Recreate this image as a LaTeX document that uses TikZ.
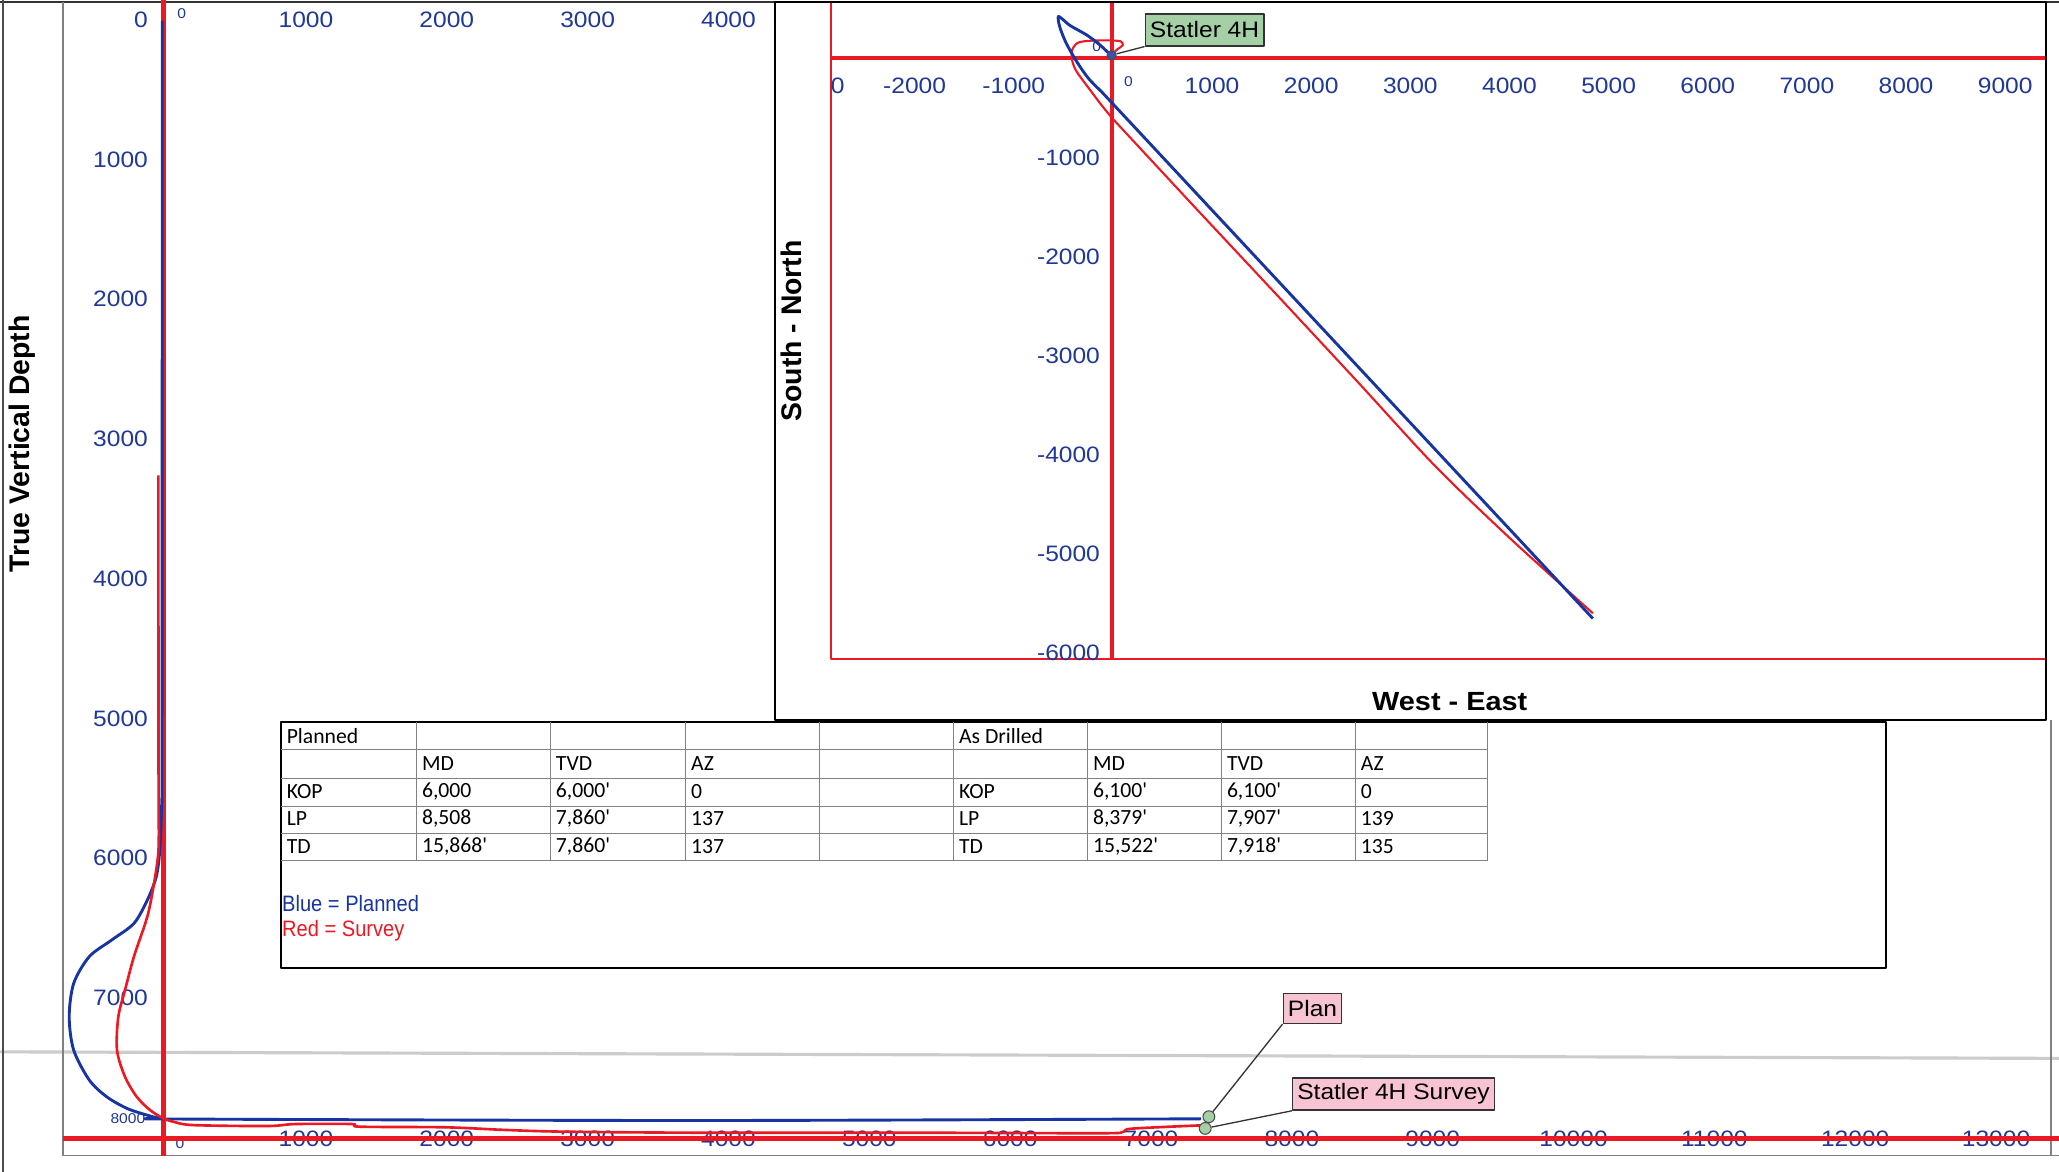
\documentclass[tikz,border=0pt]{standalone}
\usepackage{fontspec}
\setmainfont{Liberation Sans}
\newfontfamily\chartfont[FakeStretch=1.1]{Liberation Sans}
\newfontfamily\legendfont[FakeStretch=0.9]{Liberation Sans}
\newfontfamily\tablefont{Carlito}
\usepackage{xcolor}
\definecolor{axisblue}{RGB}{32,56,150}
\definecolor{planblue}{RGB}{24,52,160}
\definecolor{surveyred}{RGB}{235,25,35}
\definecolor{wellgreen}{RGB}{165,208,165}
\definecolor{wellpink}{RGB}{248,196,212}
\definecolor{gridgray}{RGB}{130,130,130}

\begin{document}
\begin{tikzpicture}[x=0.5pt,y=-0.5pt,line join=round]
  \tikzstyle{ticklbl}=[text=axisblue,inner sep=0pt,font=\chartfont\fontsize{8.5}{10}\selectfont]
  \tikzstyle{ticksmall}=[text=axisblue,inner sep=0pt,font=\chartfont\fontsize{5.4}{6}\selectfont]
  \tikzstyle{axtitle}=[inner sep=0pt,font=\bfseries\fontsize{10.8}{12}\selectfont]
  \tikzstyle{redaxis}=[draw=surveyred,line width=1.6pt]
  \tikzstyle{plan}=[draw=planblue,line width=1.1pt]
  \tikzstyle{survey}=[draw=surveyred,line width=1pt]
  \tikzstyle{wellbox}=[draw=black!80,line width=0.5pt,inner xsep=1.8pt,inner ysep=0pt,font=\chartfont\fontsize{8.5}{10}\selectfont]
  \tikzstyle{endpt}=[circle,draw=black!70,fill=wellgreen,inner sep=0pt,minimum size=4.5pt]
  \tikzstyle{cell}=[anchor=west,inner sep=0pt,font=\tablefont\fontsize{8.25}{10}\selectfont]
  \tikzstyle{legend}=[anchor=west,inner sep=0pt,font=\legendfont\fontsize{8.5}{10}\selectfont]
  \useasboundingbox (0,0) rectangle (1568,892.5);
  \fill[white] (0,0) rectangle (1568,892.5);
  \draw[black!20,line width=1.2pt] (0,801) -- (1568,806);
  \draw[black!80,line width=0.6pt] (0,1.5) -- (1568,1.5);
  \draw[black!70,line width=0.6pt] (2.5,0) -- (2.5,892.5);
  \draw[gray,line width=0.5pt] (48,1.5) -- (48,880) -- (1568,880);
  \draw[gray,line width=0.5pt] (1562,548) -- (1562,880);
  % vertical section
  \foreach \v in {1000,2000,3000,4000}
    \node[ticklbl] (top-\v) at ({125.75+\v*0.10725},15) {\v};
  \foreach \v in {0,1000,2000,3000,4000,5000,6000,7000}
    \node[ticklbl,anchor=east] (tvd-\v) at (113,{15+\v*0.10643}) {\v};
  \node[ticksmall,anchor=east] (tvd-8000) at (111,852) {8000};
  \node[ticksmall] (top-0) at (138.4,10.2) {0};
  \node[ticksmall] (vs-0) at (137,870.7) {0};
  \foreach \v in {1000,2000,3000,4000,5000,6000,7000,8000,9000,10000,11000,12000,13000}
    \node[ticklbl] (vs-\v) at ({125.75+\v*0.10725},867) {\v};
  \draw[redaxis] (124.5,0) -- (124.5,880);
  \draw[redaxis] (48,867) -- (1568,867);
  \draw[plan] plot[smooth] coordinates {(123.6,15.7) (123.4,560) (123.2,610) (121.7,647)
    (119,667.6) (112.2,685.4) (102,703.2) (85,715.9) (68,728.5) (56.1,748.9) (52.7,774.3)
    (56.1,799.7) (68,822.5) (81.2,835.2) (96.5,844) (111.7,849.1) (122,851.5) (140,852.2)
    (533,853.3) (914.6,852)};
  \draw[survey] plot[smooth] coordinates {(120.6,362) (120.7,560) (120.8,610) (120.7,647.3)
    (117.3,672.7) (112.2,698) (102,728.5) (95.2,754) (90.1,774.3) (89.1,799.7) (95.2,820)
    (104.1,835.2) (114.2,845.3) (124.4,851.7) (132,854.2) (147.2,856.8) (204,857.5)
    (225,856) (268,856) (274,858) (340,858.5) (385,860.5) (430,861.8) (533,862.6)
    (700,862.6) (838,863) (855,862) (862,859.5) (914.6,857)};
  \node[endpt] (plan-end) at (920.6,850.4) {};
  \node[endpt] (svy-end) at (917.8,859.3) {};
  \node[wellbox,fill=wellpink,minimum height=11.4pt] (plan-lbl) at (999.5,768) {Plan};
  \node[wellbox,fill=wellpink,minimum height=12.2pt] (svy-lbl) at (1061.2,833.2) {Statler 4H Survey};
  \draw[black!80,line width=0.5pt] (plan-lbl.south west) -- (plan-end);
  \draw[black!80,line width=0.5pt] (svy-lbl.south west) -- (svy-end);
  \node[axtitle,rotate=90] (tvd-title) at (17,338) {True Vertical Depth};
  % table
  \draw[black,line width=0.8pt,fill=white] (214,550) rectangle (1436,737.5);
  \foreach \x in {317,419,522,624,726,828,930,1032,1133}
    \draw[gridgray,line width=0.4pt] (\x,550) -- (\x,655);
  \foreach \y in {571,592.5,614,634.5,655}
    \draw[gridgray,line width=0.4pt] (214,\y) -- (1133,\y);
  \node[cell] (pl-head) at (218,560.5) {Planned};
  \node[cell] (ad-head) at (730,560.5) {As Drilled};
  \foreach \r/\a/\b/\c/\d in {1//MD/TVD/AZ,2/KOP/{6,000}/{6,000'}/0,3/LP/{8,508}/{7,860'}/137,4/TD/{15,868'}/{7,860'}/137}{
    \node[cell] (pl-\r-a) at (218,{560.5+\r*21.05}) {\a};
    \node[cell] (pl-\r-b) at (321,{560.5+\r*21.05}) {\b};
    \node[cell] (pl-\r-c) at (423,{560.5+\r*21.05}) {\c};
    \node[cell] (pl-\r-d) at (526,{560.5+\r*21.05}) {\d};
  }
  \foreach \r/\a/\b/\c/\d in {1//MD/TVD/AZ,2/KOP/{6,100'}/{6,100'}/0,3/LP/{8,379'}/{7,907'}/139,4/TD/{15,522'}/{7,918'}/135}{
    \node[cell] (ad-\r-a) at (730,{560.5+\r*21.05}) {\a};
    \node[cell] (ad-\r-b) at (832,{560.5+\r*21.05}) {\b};
    \node[cell] (ad-\r-c) at (934,{560.5+\r*21.05}) {\c};
    \node[cell] (ad-\r-d) at (1036,{560.5+\r*21.05}) {\d};
  }
  \node[legend,text=planblue] (leg-blue) at (214.5,688) {Blue = Planned};
  \node[legend,text=surveyred] (leg-red) at (214.5,709) {Red = Survey};
  % plan view
  \draw[black,line width=0.8pt,fill=white] (590,1.5) rectangle (1558,548);
  \draw[surveyred,line width=0.6pt] (633,2.5) -- (633,502) -- (1557.5,502);
  \draw[redaxis] (633,44.4) -- (1557,44.4);
  \draw[redaxis] (847,2.5) -- (847,502);
  \node[ticklbl] (ew-cut) at (638,65) {0};
  \foreach \v in {-2000,-1000,1000,2000,3000,4000,5000,6000,7000,8000,9000}
    \node[ticklbl] (ew-\v) at ({847.5+\v*0.0755},65) {\v};
  \node[ticksmall] (ew-0) at (859.3,62.2) {0};
  \node[ticksmall] (sn-0) at (835.2,35.5) {0};
  \foreach \v in {1000,2000,3000,4000,5000,6000}
    \node[ticklbl,anchor=east] (sn-\v) at (838,{44.6+\v*0.0754}) {-\v};
  \draw[survey,line width=0.8pt] plot[smooth] coordinates {(846.5,42) (851,37.5) (855,34.5)
    (853.5,31.5) (845,30.8) (831,31) (821,32.5) (816.5,38) (816.5,46) (819,53) (823,59)
    (829,67) (838,79) (846.5,89.5)} -- (911,159) -- plot[smooth] coordinates {(976,228.5)
    (1035,292) (1093,355) (1150,410) (1213,467)};
  \draw[plan] plot[smooth] coordinates {(846.5,42.6) (837.7,34.3) (827.6,26.7) (815,19.5)
    (809,14.5) (806,12.5) (806,16) (807.5,22) (812,33) (820,47) (828.8,59.6) (839,70)}
    -- (1213,471);
  \node[circle,draw=black!70,fill=planblue!85,inner sep=0pt,minimum size=3.5pt] (surface) at (846.5,42) {};
  \node[wellbox,fill=wellgreen,minimum height=12.15pt] (well-lbl) at (917.3,22.8) {Statler 4H};
  \draw[black!80,line width=0.5pt] (well-lbl.south west) -- (surface);
  \node[axtitle,rotate=90] (sn-title) at (603,252) {South - North};
  \node[axtitle,font=\chartfont\bfseries\fontsize{10}{12}\selectfont] (we-title) at (1104,534) {West - East};
\end{tikzpicture}
\end{document}
